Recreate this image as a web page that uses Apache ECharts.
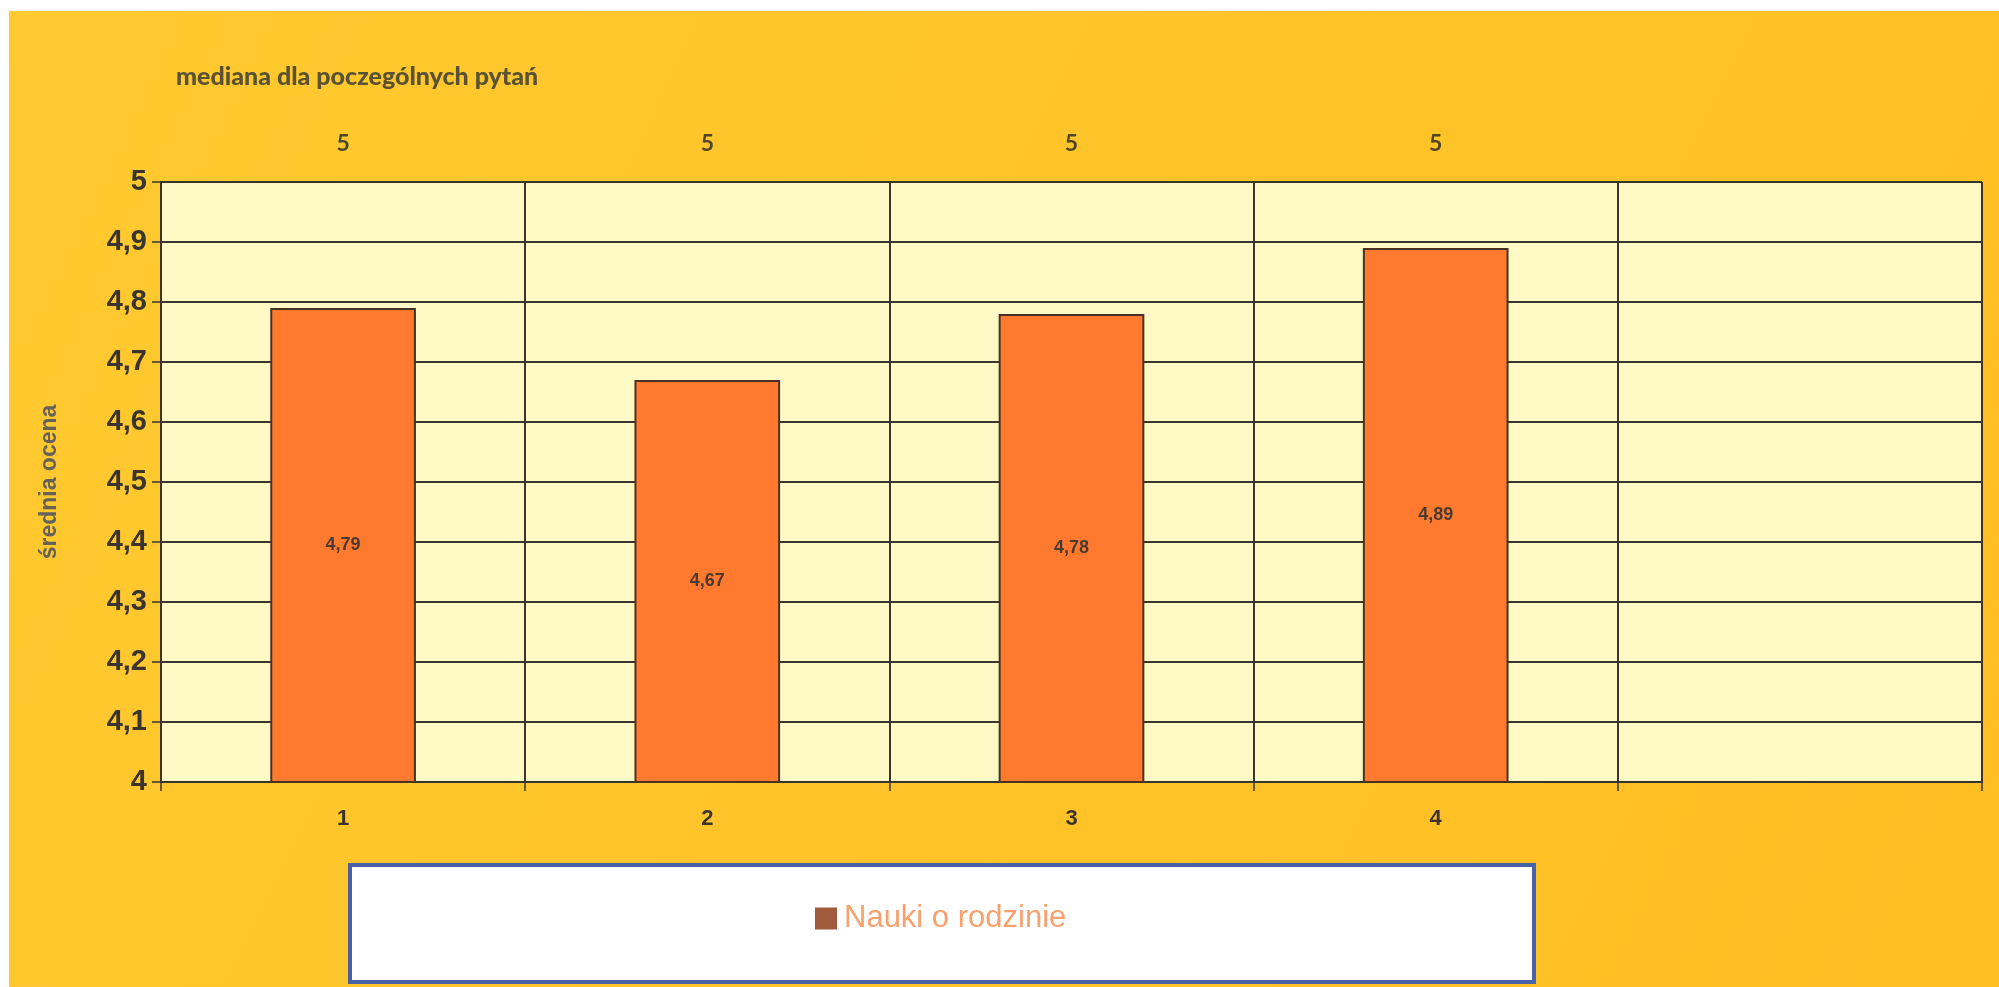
<!DOCTYPE html>
<html>
<head>
<meta charset="utf-8">
<script src="https://cdn.jsdelivr.net/npm/echarts@6/dist/echarts.min.js"></script>
<style>
html,body{margin:0;padding:0;background:#fff;}
#chart{width:1999px;height:987px;}
</style>
</head>
<body>
<div id="chart"></div>
<script>
// ---- data ----
var categories = ["1", "2", "3", "4", ""];
var medianLabels = ["5", "5", "5", "5", ""];
var seriesName = "Nauki o rodzinie";
var meanValues = [4.79, 4.67, 4.78, 4.89, null];
var titleText = "mediana dla poczególnych pytań";
var yAxisName = "średnia ocena";

function comma(v) {
  return String(+Number(v).toFixed(2)).replace('.', ',');
}

var chart = echarts.init(document.getElementById('chart'));
var option = {
  animation: false,
  backgroundColor: new echarts.graphic.LinearGradient(0, 0, 1, 1, [
    {offset: 0, color: '#FFCA30'},
    {offset: 1, color: '#FFBE22'}
  ]),
  title: {
    text: titleText,
    left: 171,
    top: 59,
    textStyle: {fontFamily: 'Lato', fontWeight: 900, fontSize: 25, color: '#5A5232'}
  },
  graphic: [
    {type: 'rect', shape: {x: 0, y: 0, width: 1999, height: 11}, style: {fill: '#ffffff'}, silent: true},
    {type: 'rect', shape: {x: 0, y: 0, width: 9, height: 987}, style: {fill: '#ffffff'}, silent: true},
    {type: 'rect', shape: {x: 350, y: 865, width: 1184, height: 117}, style: {fill: '#ffffff', stroke: '#4862A8', lineWidth: 4}, silent: true}
  ],
  legend: {
    data: [seriesName],
    left: 815,
    top: 903,
    padding: 0,
    icon: 'rect',
    itemWidth: 22,
    itemHeight: 22,
    itemGap: 8,
    textStyle: {fontFamily: 'Liberation Sans', fontSize: 31, color: '#F7A26E', lineHeight: 30, padding: [0, 0, 0, 2]}
  },
  grid: {left: 161, right: 17, top: 182, bottom: 205, show: true, backgroundColor: '#FFF9C6', borderWidth: 0},
  xAxis: [
    {
      type: 'category',
      data: categories,
      position: 'bottom',
      axisLine: {show: true, lineStyle: {color: '#3A342C', width: 2}},
      axisTick: {show: true, length: 9, lineStyle: {color: '#3A342C', width: 1.5}},
      splitLine: {show: true, lineStyle: {color: '#3A342C', width: 2}},
      axisLabel: {margin: 26, fontFamily: 'Liberation Sans', fontWeight: 'bold', fontSize: 22, color: '#3A342C'}
    },
    {
      type: 'category',
      data: medianLabels,
      position: 'top',
      axisLine: {show: false},
      axisTick: {show: false},
      splitLine: {show: false},
      axisLabel: {margin: 27, fontFamily: 'Lato', fontWeight: 'bold', fontSize: 23, color: '#4E4626'}
    }
  ],
  yAxis: {
    type: 'value',
    min: 4,
    max: 5,
    interval: 0.1,
    name: yAxisName,
    nameLocation: 'middle',
    nameGap: 100,
    nameTextStyle: {fontFamily: 'Liberation Sans', fontWeight: 'bold', fontSize: 23, color: '#66625A'},
    axisLine: {show: true, lineStyle: {color: '#3A342C', width: 2}},
    axisTick: {show: true, length: 9, lineStyle: {color: '#3A342C', width: 1.5}},
    splitLine: {show: true, lineStyle: {color: '#3A342C', width: 2}},
    axisLabel: {
      margin: 14,
      fontFamily: 'Liberation Sans', fontWeight: 'bold', fontSize: 29, color: '#3A342C',
      formatter: function (v) { return String(+Number(v).toFixed(1)).replace('.', ','); }
    }
  },
  series: [{
    name: seriesName,
    type: 'bar',
    data: meanValues,
    barWidth: '40%',
    itemStyle: {color: '#FF7A2E', borderColor: '#4A3222', borderWidth: 2},
    label: {
      show: true,
      position: 'inside',
      fontFamily: 'Liberation Sans', fontWeight: 'bold', fontSize: 18, color: '#4A3A30',
      formatter: function (p) { return comma(p.value); }
    }
  }]
};
option.legend.data = [{name: seriesName, itemStyle: {color: '#A05A3C', borderWidth: 0}}];
chart.setOption(option);
</script>
</body>
</html>
